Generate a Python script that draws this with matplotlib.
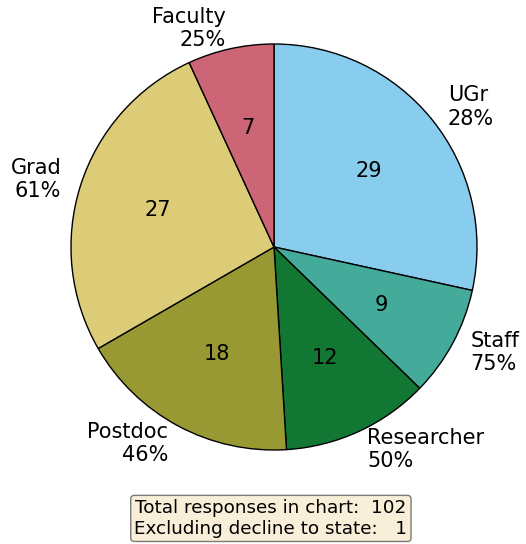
import matplotlib.pyplot as plt

# categories / counts / per-group response rates
groups = ['UGr', 'Staff', 'Researcher', 'Postdoc', 'Grad', 'Faculty']
counts = [29, 9, 12, 18, 27, 7]
rates = ['28%', '75%', '50%', '46%', '61%', '25%']
colors = ['#88CCEE', '#44AA99', '#117733', '#999933', '#DDCC77', '#CC6677']
declined = 1

labels = [g + '\n' + r for g, r in zip(groups, rates)]

fig = plt.figure(figsize=(5.26, 5.44), dpi=100)
ax = fig.add_axes([71 / 526, 94 / 544, 406 / 526, 406 / 544])

wedges, texts, autotexts = ax.pie(
    counts, labels=labels, colors=colors, startangle=90, counterclock=False,
    autopct=lambda p: '%d' % round(p * sum(counts) / 100),
    wedgeprops=dict(edgecolor='black', linewidth=1),
    textprops=dict(fontsize=15))
ax.set_xlim(-1, 1)
ax.set_ylim(-1, 1)

msg = 'Total responses in chart:  %d\nExcluding decline to state:   %d' % (sum(counts), declined)
fig.text(0.515, 0.047, msg, fontsize=13.2, ha='center', va='center',
         bbox=dict(boxstyle='round,pad=0.2', facecolor='wheat', alpha=0.5))

fig.savefig('out.png', dpi=100)
